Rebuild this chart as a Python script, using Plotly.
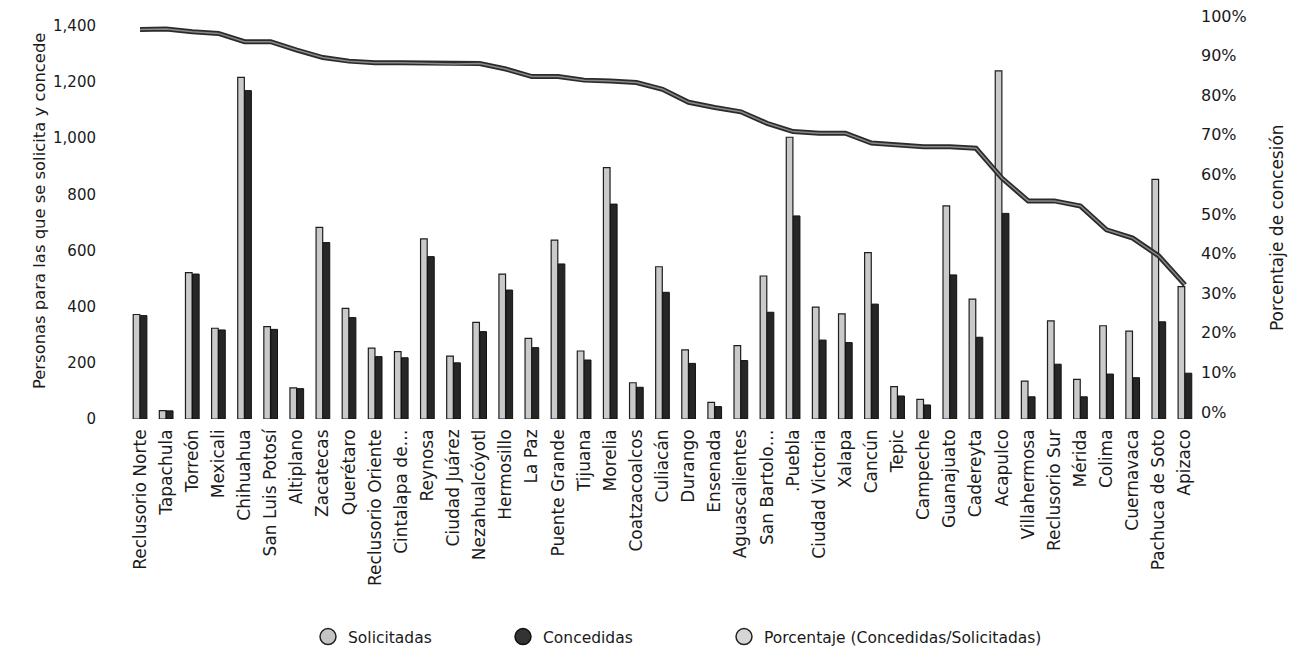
import plotly.graph_objects as go

categorias = ["Reclusorio Norte", "Tapachula", "Torreón", "Mexicali", "Chihuahua",
              "San Luis Potosí", "Altiplano", "Zacatecas", "Querétaro", "Reclusorio Oriente",
              "Cintalapa de…", "Reynosa", "Ciudad Juárez", "Nezahualcóyotl", "Hermosillo",
              "La Paz", "Puente Grande", "Tijuana", "Morelia", "Coatzacoalcos",
              "Culiacán", "Durango", "Ensenada", "Aguascalientes", "San Bartolo…",
              ".Puebla", "Ciudad Victoria", "Xalapa", "Cancún", "Tepic",
              "Campeche", "Guanajuato", "Cadereyta", "Acapulco", "Villahermosa",
              "Reclusorio Sur", "Mérida", "Colima", "Cuernavaca", "Pachuca de Soto", "Apizaco"]

solicitadas = [372, 30, 521, 323, 1216, 329, 111, 682, 394, 252,
               240, 641, 224, 344, 516, 287, 637, 242, 895, 129,
               542, 246, 59, 261, 509, 1003, 398, 374, 592, 115,
               70, 759, 427, 1239, 135, 349, 141, 332, 313, 853, 471]

concedidas = [368, 29, 516, 317, 1169, 319, 108, 628, 361, 222,
              218, 578, 200, 311, 459, 254, 552, 210, 765, 113,
              451, 198, 44, 208, 380, 723, 281, 272, 409, 82,
              50, 513, 291, 732, 79, 195, 79, 160, 147, 346, 163]

porcentaje = [0.966, 0.967, 0.960, 0.956, 0.935, 0.935, 0.914, 0.895, 0.886, 0.882,
              0.882, 0.881, 0.879, 0.880, 0.866, 0.847, 0.847, 0.838, 0.836, 0.832,
              0.815, 0.782, 0.769, 0.758, 0.729, 0.708, 0.704, 0.704, 0.679, 0.674,
              0.670, 0.670, 0.666, 0.590, 0.533, 0.533, 0.520, 0.460, 0.439, 0.394, 0.321]

FONT = "DejaVu Sans"

fig = go.Figure()
fig.add_trace(go.Bar(x=categorias, y=solicitadas, name="Solicitadas",
                     marker=dict(color="#cacaca", line=dict(color="#1e1e1e", width=1.2)),
                     showlegend=False))
fig.add_trace(go.Bar(x=categorias, y=concedidas, name="Concedidas",
                     marker=dict(color="#262626", line=dict(color="#111111", width=1)),
                     showlegend=False))
fig.add_trace(go.Scatter(x=categorias, y=porcentaje, yaxis="y2", mode="lines",
                         line=dict(color="#2b2b2b", width=5), showlegend=False))
fig.add_trace(go.Scatter(x=categorias, y=porcentaje, yaxis="y2", mode="lines",
                         line=dict(color="#8a8a8a", width=1.5), showlegend=False, hoverinfo="skip"))

# legend entries (circle icons as in the reference), one legend each for exact placement
fig.add_trace(go.Scatter(x=[None], y=[None], mode="markers", name="Solicitadas", legend="legend",
                         marker=dict(symbol="circle", size=16, color="#c4c4c4",
                                     line=dict(color="#222", width=1.5))))
fig.add_trace(go.Scatter(x=[None], y=[None], mode="markers", name="Concedidas", legend="legend2",
                         marker=dict(symbol="circle", size=16, color="#333333",
                                     line=dict(color="#111", width=1.5))))
fig.add_trace(go.Scatter(x=[None], y=[None], mode="markers", name="Porcentaje (Concedidas/Solicitadas)",
                         legend="legend3",
                         marker=dict(symbol="circle", size=16, color="#d6d6d6",
                                     line=dict(color="#222", width=1.5))))

W, H = 1288, 645
leg_common = dict(orientation="h", xref="container", yref="container",
                  xanchor="left", y=1 - 629 / H, yanchor="middle",
                  font=dict(size=15.5, family=FONT), bgcolor="rgba(0,0,0,0)")

fig.update_layout(
    width=W, height=H,
    margin=dict(l=119, r=98, t=6, b=234, autoexpand=False),
    paper_bgcolor="white", plot_bgcolor="white",
    font=dict(family=FONT, size=15, color="#1a1a1a"),
    barmode="group", bargap=0.46, bargroupgap=0.06,
    xaxis=dict(tickangle=-90, showgrid=False, showline=False, zeroline=False,
               ticks="", ticklabelstandoff=6, tickfont=dict(size=17), automargin=False),
    yaxis=dict(range=[0, 1441.8], tickvals=[0, 200, 400, 600, 800, 1000, 1200, 1400],
               tickformat=",", showgrid=False, zeroline=False, showline=False,
               ticklabelstandoff=30, tickfont=dict(size=15), ticklabeloverflow="allow",
               automargin=False),
    yaxis2=dict(range=[-0.0177, 1.005], overlaying="y", side="right",
                tickvals=[0, 0.1, 0.2, 0.3, 0.4, 0.5, 0.6, 0.7, 0.8, 0.9, 1.0],
                tickformat=".0%", showgrid=False, zeroline=False, showline=False,
                ticklabelstandoff=2, tickfont=dict(size=16), ticklabeloverflow="allow",
                automargin=False),
    legend=dict(x=300 / W, **leg_common),
    legend2=dict(x=495 / W, **leg_common),
    legend3=dict(x=716 / W, **leg_common),
    annotations=[
        dict(text="Personas para las que se solicita y concede", textangle=-90,
             xref="paper", yref="paper", x=-0.0812, y=0.5136, showarrow=False,
             xanchor="center", yanchor="middle", font=dict(size=16.4, family=FONT)),
        dict(text="Porcentaje de concesión", textangle=-90,
             xref="paper", yref="paper", x=1.0738, y=0.4716, showarrow=False,
             xanchor="center", yanchor="middle", font=dict(size=17, family=FONT)),
    ],
)

fig.write_html("out.html")
